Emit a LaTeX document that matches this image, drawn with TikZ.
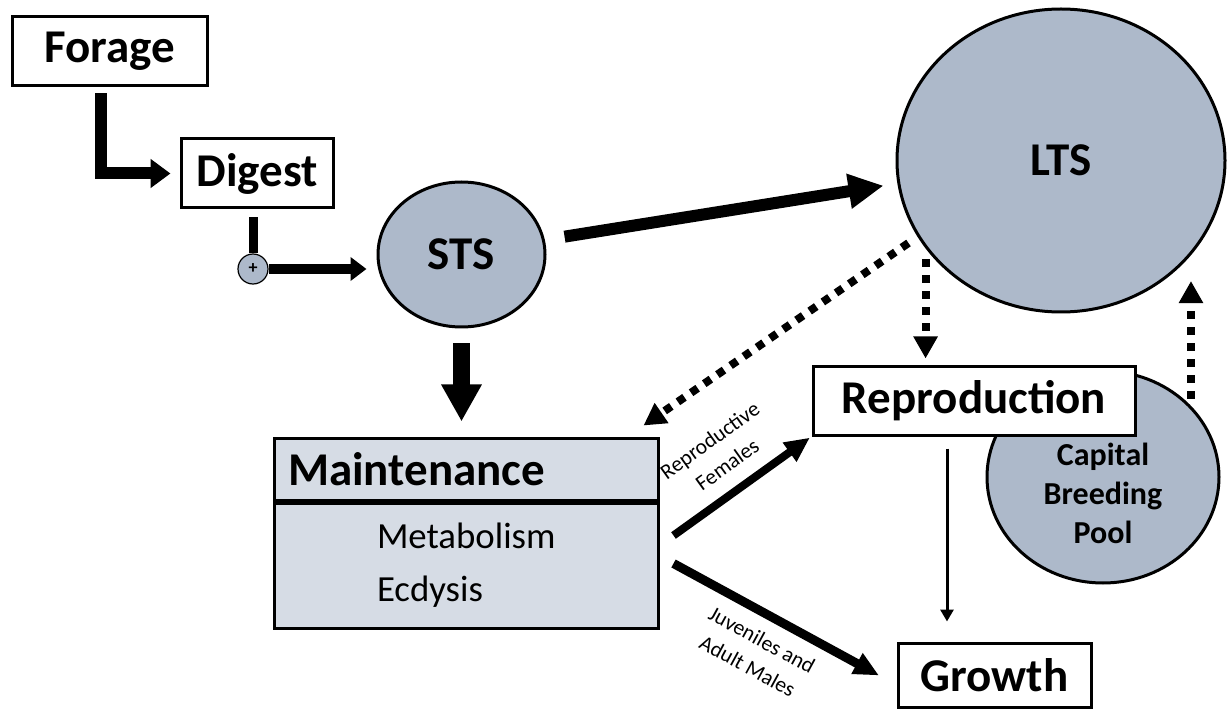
\documentclass[tikz,border=0pt]{standalone}
\usepackage{fontspec}
\setmainfont{Carlito}
\usetikzlibrary{arrows.meta,shapes.geometric,positioning}

\definecolor{storeblue}{HTML}{ADB9CA}
\definecolor{maintgray}{HTML}{D6DCE5}

\tikzset{
  stage/.style={draw, line width=1.5pt, fill=white, inner sep=0pt, font=\bfseries\fontsize{23.5}{28}\selectfont},
  store/.style={ellipse, draw, line width=1.5pt, fill=storeblue, inner sep=0pt, font=\bfseries\fontsize{23.5}{28}\selectfont},
  dotflow/.style={line width=4pt, dash pattern=on 4pt off 4pt, -{Triangle[length=11pt,width=11.5pt]}},
  flowlabel/.style={align=center, font=\fontsize{10.8}{15}\selectfont}
}

\begin{document}
\begin{tikzpicture}[x=0.5pt,y=-0.5pt]
\useasboundingbox (0,0) rectangle (1227,711);

\node[stage, minimum width=97.5pt, minimum height=34.5pt] (forage) at (109.5,51.5) {Forage};
\node[stage, minimum width=76pt, minimum height=34.5pt] (digest) at (257,173.5) {Digest};
\node[circle, draw, line width=0.6pt, fill=storeblue, minimum size=15pt, inner sep=0pt, font=\bfseries\fontsize{9}{9}\selectfont] (plus) at (253,269) {+};

\node[store, minimum width=83.5pt, minimum height=72.5pt] (sts) at (461.5,254.5) {STS};
\node[store, minimum width=164pt, minimum height=151.5pt] (lts) at (1061,160.5) {LTS};
\node[store, minimum width=116pt, minimum height=106pt] (pool) at (1103,477) {};
\node[align=center, font=\bfseries\fontsize{16}{19.5}\selectfont] (pooltext) at ([yshift=-8pt]pool.center) {Capital\\Breeding\\Pool};

\node[stage, minimum width=161pt, minimum height=34pt] (repro) at (974,401) {Reproduction};
\node[stage, minimum width=96.5pt, minimum height=32pt] (growth) at (994.5,675) {Growth};

\node[stage, fill=maintgray, minimum width=192pt, minimum height=31pt, text width=178pt, align=left, inner xsep=7pt] (mhead) at (466,469) {Maintenance};
\node[stage, fill=maintgray, minimum width=192pt, minimum height=62.5pt, text width=178pt, align=left, inner xsep=7pt, below=0pt of mhead, font=\fontsize{18.4}{26.5}\selectfont] (mbody) {\hspace*{44.5pt}Metabolism\\\hspace*{44.5pt}Ecdysis};

% intake
\draw[line width=6pt, -{Triangle[length=10pt,width=14pt]}, shorten >=4.5pt] ([xshift=-4.25pt,yshift=-3pt]forage.south) |- (digest.west);
\draw[line width=4.5pt] ([yshift=-4pt]plus |- digest.south) -- (plus.north);
\draw[line width=5pt, -{Triangle[length=8pt,width=11.5pt]}, shorten >=5pt] (plus.east) -- (plus.east -| sts.west);

% storage
\draw[line width=6pt, -{Triangle[length=17.5pt,width=16.5pt]}, shorten <=10pt, shorten >=7pt] (sts.10) -- (lts.188);
\draw[line width=8.5pt, -{Triangle[length=18.5pt,width=19pt]}, shorten <=7.5pt, shorten >=7.5pt] (sts.south) -- (sts.south |- mhead.north);
\draw[dotflow, shorten <=5.5pt] (lts.208) -- ([xshift=-8pt,yshift=5.5pt]mhead.north east);
\draw[dotflow, shorten <=5.5pt, shorten >=3.5pt] (lts.213) -- (lts.213 |- repro.north);
\draw[dotflow, shorten <=3.5pt, shorten >=13pt] (pool.39) -- (pool.39 |- lts.-36);

% allocation
\draw[line width=4pt, -{Triangle[length=12.5pt,width=11pt]}, shorten >=1pt] ([shift={(7pt,15pt)}]mbody.east) -- (repro.south west)
  node[midway, sloped, above=4pt, flowlabel] {Reproductive\\Females};
\draw[line width=4.5pt, -{Triangle[length=12.5pt,width=11pt]}, shorten >=10pt] ([shift={(7pt,1pt)}]mbody.east) -- ([yshift=-5pt]growth.west)
  node[pos=0.45, sloped, below=3pt, flowlabel] {Juveniles and\\Adult Males};
\draw[line width=1.5pt, -{Triangle[length=6pt,width=6.5pt]}, shorten <=6pt, shorten >=10pt] ([xshift=-13.5pt]repro.south) -- ([xshift=-13.5pt]repro.south |- growth.north);
\end{tikzpicture}
\end{document}
